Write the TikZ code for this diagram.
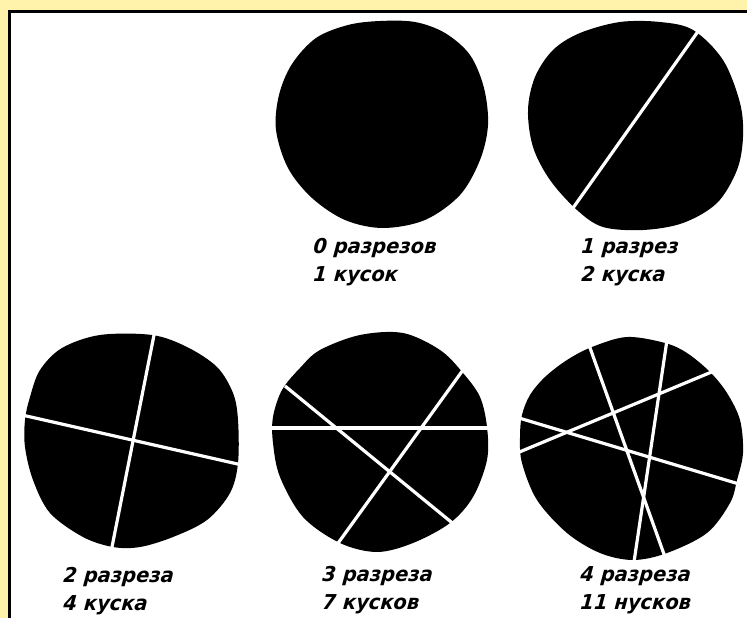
\documentclass[tikz,border=0pt]{standalone}
\usepackage{fontspec}
\setmainfont{DejaVu Sans}
\newfontfamily\hand[FakeStretch=0.95,FakeSlant=0.08]{DejaVu Sans}
\definecolor{paper}{RGB}{255,242,170}
\begin{document}
\begin{tikzpicture}[x=1pt,y=-1pt,
  disc/.style={fill=black,draw=none},
  cut/.style={draw=white,line width=3.2pt,line cap=butt},
  caption/.style={anchor=north west,inner sep=0pt,align=left,
    font=\hand\bfseries\itshape\fontsize{20.5}{28.5}\selectfont}]
\useasboundingbox (0,0) rectangle (747,618);
% page and frame
\fill[paper] (0,0) rectangle (747,618);
\fill[white] (9.5,11.5) rectangle (747,618);
\draw[line width=3pt] (9.5,618) -- (9.5,11.5) -- (747,11.5);

% 0 cuts
\fill[disc] plot[smooth cycle,tension=0.55] coordinates {
  (380,21) (415,22) (445,33) (470,55) (484,88) (488,125) (480,160) (460,195)
  (425,220) (383,228) (345,220) (312,198) (288,168) (276,130) (279,95)
  (292,64) (316,38) (348,25)};

% 1 cut
\fill[disc] plot[smooth cycle,tension=0.55] coordinates {
  (620,22) (660,22) (693,30) (723,60) (740,103) (743,137) (737,170) (717,203)
  (683,223) (643,230) (603,227) (577,210) (550,180) (533,147) (528,110)
  (535,77) (553,50) (580,33)};
\coordinate (a1) at (699,30);
\coordinate (a2) at (573,208);
\draw[cut] (a1) -- (a2);

% 2 cuts
\fill[disc] plot[smooth cycle,tension=0.55] coordinates {
  (100,335) (152,335) (187,347) (217,367) (233,393) (238,420) (238,463)
  (230,493) (207,520) (173,537) (140,547) (113,547) (83,537) (50,513)
  (33,480) (25,447) (25,420) (30,397) (40,370) (62,348)};
\coordinate (b1) at (22,415);  \coordinate (b2) at (242,465);
\coordinate (b3) at (155,330); \coordinate (b4) at (111,552);
\draw[cut] (b1) -- (b2);
\draw[cut] (b3) -- (b4);

% 3 cuts
\fill[disc] plot[smooth cycle,tension=0.55] coordinates {
  (360,335) (403,333) (440,350) (463,373) (480,397) (487,427) (487,460)
  (473,497) (450,523) (413,543) (377,552) (340,543) (303,517) (280,477)
  (273,443) (273,417) (282,390) (300,368) (320,350)};
\coordinate (c1) at (268,428); \coordinate (c2) at (492,428);
\coordinate (c3) at (285,386); \coordinate (c4) at (456,526);
\coordinate (c5) at (463,370); \coordinate (c6) at (336,546);
\draw[cut] (c1) -- (c2);
\draw[cut] (c3) -- (c4);
\draw[cut] (c5) -- (c6);

% 4 cuts
\fill[disc] plot[smooth cycle,tension=0.55] coordinates {
  (627,337) (665,343) (687,353) (710,372) (727,393) (740,420) (743,453)
  (737,480) (730,503) (707,533) (667,553) (633,560) (600,553) (567,533)
  (537,500) (522,463) (520,437) (522,415) (530,395) (545,377) (567,360)
  (592,347)};
\coordinate (d1) at (519,418); \coordinate (d2) at (739,484);
\coordinate (d3) at (517,453); \coordinate (d4) at (714,371);
\coordinate (d5) at (589,345); \coordinate (d6) at (665,557);
\coordinate (d7) at (667,340); \coordinate (d8) at (634,562);
\draw[cut] (d1) -- (d2);
\draw[cut] (d3) -- (d4);
\draw[cut] (d5) -- (d6);
\draw[cut] (d7) -- (d8);

% captions
\node[caption] (t0) at (313,238) {0 разрезов\\1 кусок};
\node[caption] (t1) at (581,238) {1 разрез\\2 куска};
\node[caption] (t2) at (63,567) {2 разреза\\4 куска};
\node[caption] (t3) at (322,566) {3 разреза\\7 кусков};
\node[caption] (t4) at (580,566) {4 разреза\\11 нусков};
\end{tikzpicture}
\end{document}
